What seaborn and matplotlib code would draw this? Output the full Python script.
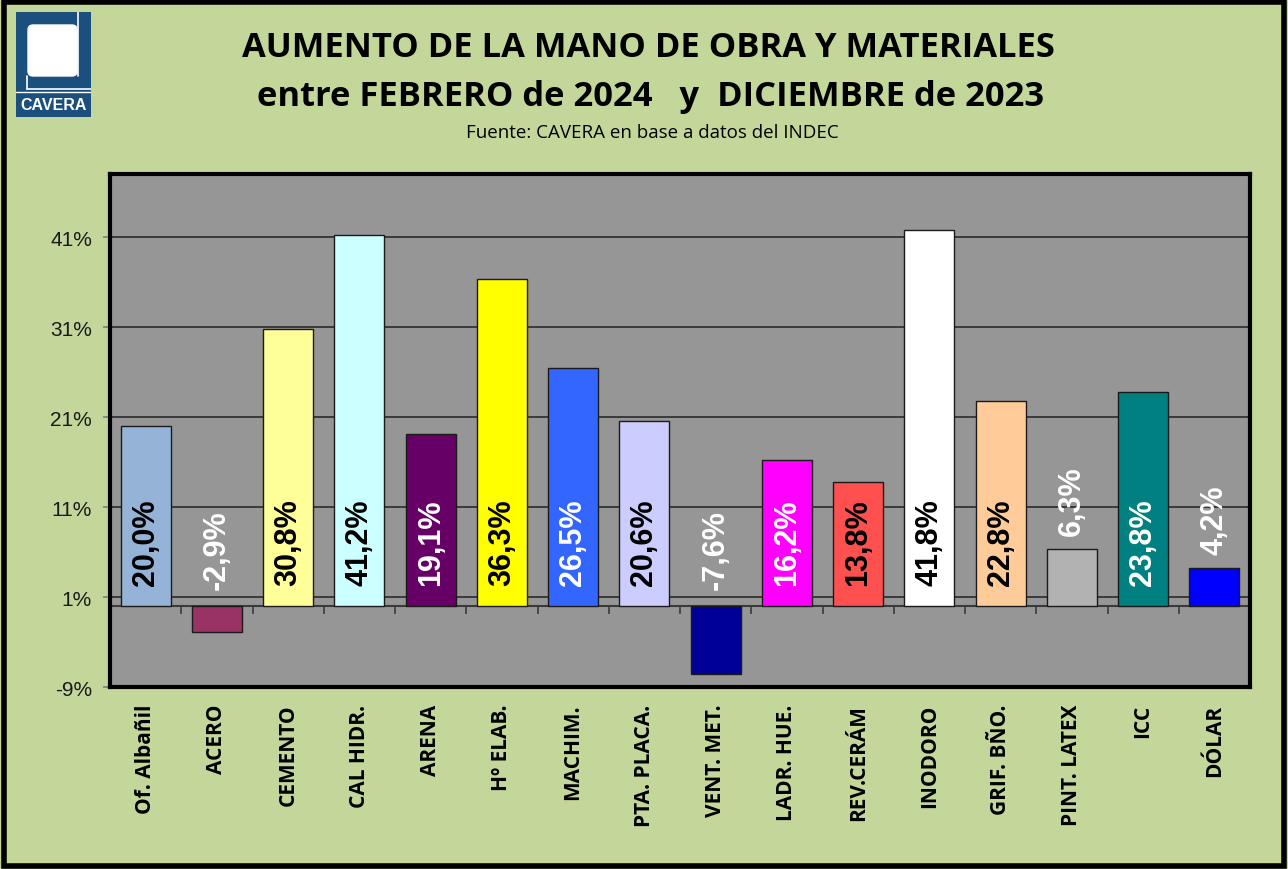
import numpy as np
import pandas as pd
import matplotlib.pyplot as plt
import matplotlib.patches as mpatches
import seaborn as sns

categorias = ["Of. Albañil", "ACERO", "CEMENTO", "CAL HIDR.", "ARENA", "Hº ELAB.",
              "MACHIM.", "PTA. PLACA.", "VENT. MET.", "LADR. HUE.", "REV.CERÁM",
              "INODORO", "GRIF. BÑO.", "PINT. LATEX", "ICC", "DÓLAR"]
valores = [20.0, -2.9, 30.8, 41.2, 19.1, 36.3, 26.5, 20.6, -7.6, 16.2, 13.8,
           41.8, 22.8, 6.3, 23.8, 4.2]
colores = ["#95B3D7", "#993366", "#FFFF99", "#CCFFFF", "#660066", "#FFFF00",
           "#3366FF", "#CCCCFF", "#000099", "#FF00FF", "#FF5050",
           "#FFFFFF", "#FFCC99", "#B2B2B2", "#008080", "#0000FF"]
color_etiqueta = ["black", "white", "black", "black", "white", "black",
                  "white", "black", "white", "white", "black",
                  "black", "black", "white", "white", "white"]
marcas_y = [-9, 1, 11, 21, 31, 41]

sns.set_theme(style="white")
plt.rcParams['font.family'] = ['Liberation Sans', 'DejaVu Sans']
plt.rcParams['text.color'] = 'black'
plt.rcParams['xtick.color'] = 'black'
plt.rcParams['ytick.color'] = 'black'

W, H = 1288, 870
fig = plt.figure(figsize=(W / 100, H / 100), dpi=100, facecolor="#C4D79B")

# --- área del gráfico ---
ax = fig.add_axes([110 / W, 1 - 688 / H, 1140 / W, 513 / H])
ax.set_facecolor("#969696")

df = pd.DataFrame({"cat": categorias, "val": valores})
sns.barplot(data=df, x="cat", y="val", hue="cat", palette=colores, legend=False,
            width=0.7, saturation=1, edgecolor="#1a1a1a", linewidth=1, ax=ax, zorder=3)

ax.set_ylim(-9, 48)
ax.set_xlim(-0.5, len(categorias) - 0.5)
ax.set_yticks(marcas_y)
ax.set_yticklabels([f"{m}%" for m in marcas_y], fontsize=15, color="#1a1a1a")
ax.set_axisbelow(True)
ax.grid(axis="y", color="#2b2b2b", lw=1.2)
ax.grid(axis="x", visible=False)
ax.axhline(0, color="#3a3a3a", lw=1.5, zorder=2)
# marcas de categoría sobre el eje cero
ax.vlines(np.arange(0.5, len(categorias) - 1), -0.9, 0, color="#3a3a3a", lw=1.2, zorder=2)

ax.tick_params(axis="y", length=5, color="#808080", pad=8, left=True)
ax.tick_params(axis="x", length=0, pad=12)
ax.set_xticks(range(len(categorias)))
ax.set_xticklabels(categorias, rotation=90, fontsize=15, fontweight="bold",
                   family=["Open Sans", "DejaVu Sans"], va="top", color="black")
ax.set_xlabel("")
ax.set_ylabel("")
for s in ax.spines.values():
    s.set_color("black")
    s.set_linewidth(3)

# etiquetas de valores
for i, v in enumerate(valores):
    if v < 0:
        y0 = 1.9
    elif v < 10:
        y0 = v + 1.6
    else:
        y0 = 2.3
    ax.text(i, y0, f"{v:.1f}%".replace(".", ","), rotation=90, ha="center", va="bottom",
            fontsize=22, fontweight="bold", color=color_etiqueta[i], zorder=5)

# --- títulos ---
fig.text(648 / W, 1 - 48 / H, "AUMENTO DE LA MANO DE OBRA Y MATERIALES", ha="center", va="center",
         fontsize=24.8, fontweight="bold", family=["Open Sans", "DejaVu Sans"], color="black")
fig.text(651 / W, 1 - 97 / H, "entre FEBRERO de 2024   y  DICIEMBRE de 2023", ha="center", va="center",
         fontsize=24.8, fontweight="bold", family=["Open Sans", "DejaVu Sans"], color="black")
fig.text(652 / W, 1 - 133 / H, "Fuente: CAVERA en base a datos del INDEC", ha="center", va="center",
         fontsize=13.5, family=["Open Sans", "DejaVu Sans"], color="black")

# --- logo ---
lg = fig.add_axes([16 / W, 1 - 118 / H, 75 / W, 105 / H])
lg.set_xlim(0, 75)
lg.set_ylim(105, 0)
lg.axis("off")
azul = "#1B4F7E"
lg.add_patch(mpatches.Rectangle((0, 0), 75, 105, color=azul))
lg.add_patch(mpatches.FancyBboxPatch((12, 13), 49, 51, boxstyle="round,pad=0,rounding_size=5", color="white"))
lg.plot([62, 62], [0, 64], color="white", lw=1.2)
lg.plot([11, 75], [77, 77], color="white", lw=1.2)
lg.plot([11, 11], [64, 77], color="white", lw=1.2)
lg.plot([0, 75], [80, 80], color="white", lw=1.0)
lg.text(37.5, 93, "CAVERA", color="white", ha="center", va="center", fontsize=11.5,
        fontweight="bold", fontstretch="condensed")

# borde exterior
fig.add_artist(mpatches.Rectangle((0.003, 0.003), 0.994, 0.994, transform=fig.transFigure,
                                  fill=False, ec="black", lw=4))

fig.savefig("out.png", dpi=100, facecolor=fig.get_facecolor())
